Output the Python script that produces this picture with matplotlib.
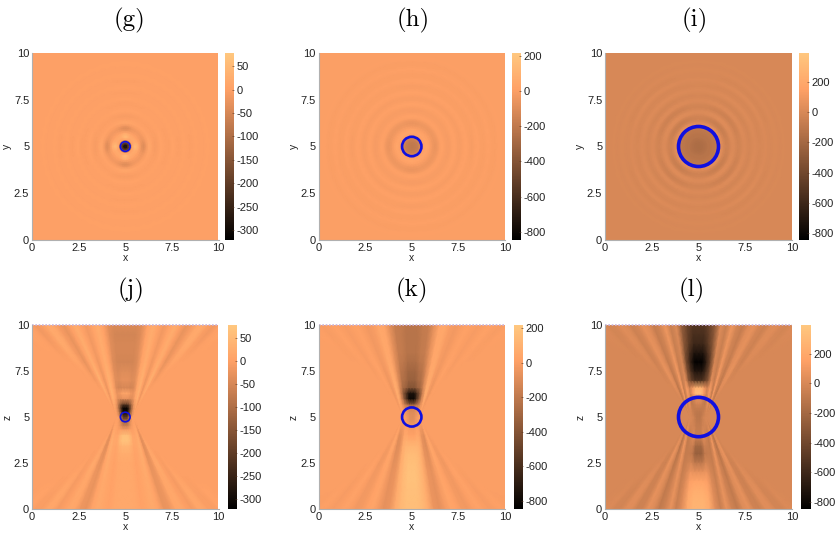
import matplotlib
matplotlib.use("Agg")
import matplotlib.pyplot as plt
from matplotlib.colors import Normalize
from matplotlib.patches import Circle
import numpy as np

plt.rcParams["font.family"] = ["Liberation Sans", "DejaVu Sans"]

W, H = 839, 545

labels_top = ["(g)", "(h)", "(i)"]
labels_bottom = ["(j)", "(k)", "(l)"]
title_x = [[130, 413, 695], [131, 412, 692]]
title_y = [20, 290]

panel_x = [(32, 218.5), (318.5, 505), (605, 792)]
cbar_x_top = [(225, 234), (512, 521), (799, 809)]
cbar_x_bottom = [(228, 237), (514, 523), (801, 811)]

ranges = [(-321, 78), (-847, 217), (-846, 392)]
cbar_ticks = [[50, 0, -50, -100, -150, -200, -250, -300],
              [200, 0, -200, -400, -600, -800],
              [200, 0, -200, -400, -600, -800]]
circle_r = [0.26, 0.52, 1.07]
circle_lw = [1.2, 1.9, 2.6]
ticks = [0, 2.5, 5, 7.5, 10]
tick_labels = ["0", "2.5", "5", "7.5", "10"]

# radial profiles of the x-y panels, every 0.125 from the centre out to r=5
profile_g = [-290, -270, -130, 10, 50, 45, 10, -25, -40, -15, 10, 10, -2, -7, -3, 4, 4, 0, -3, -2,
             2, 2, -1, -2, 0, 2, 1, -1, -2, 0, 1, 1, -1, -1, 0, 1, 1, 0, -1, 0, 0]
profile_h = [-200, -195, -185, -165, -110, 10, 40, 30, 0, -35, -55, -40, 0, 15, 4, -12, -14, 0, 12, 7,
             -8, -10, 2, 10, 7, -7, -8, 1, 8, 6, -6, -7, 1, 7, 4, -4, -5, 1, 5, 3, -3]
profile_i = [-170, -165, -155, -145, -130, -125, -115, -105, -85, 60, 50, -10, -60, -45, 15, 30, 0, -40, -30, 15,
             22, -5, -16, 4, 22, 12, -8, -6, 14, 20, 0, -6, 4, 12, 2, -3, 3, 7, 0, -1, 0]
# how strongly the rings show, over one quadrant, every 7.5 degrees
ring_weight_g = [1, .9, .7, .5, .4, .35, .35, .35, .4, .5, .7, .9]
ring_weight_h = [1, .95, .85, .8, .75, .75, .75, .75, .75, .8, .85, .95]
ring_weight_i = [.55, .6, .7, .85, .95, 1, 1, 1, .95, .85, .7, .6]

# x-z panels: values at the top/bottom edge by offset from x=5, values along the x=5 axis by distance from z=5
edge_offset = [0, .3, .6, .9, 1.2, 1.5, 1.8, 2.1, 2.4, 2.7, 3, 3.3, 3.6, 3.9, 4.2, 4.5, 4.8, 5.1, 5.5, 6, 7, 9, 12, 20]
axis_dist = [0, .15, .3, .5, .7, 1, 1.3, 1.6, 2, 2.5, 3, 3.5, 4, 4.5, 5]
streak_fade = [0, .3, .7, 1.2, 1.6, 1.8, 1.6, 1.4, 1.25, 1.15, 1.05, 1, 1, 1, 1]
# the far streaks only show up some way from z=5 (fraction of the way to the edge)
streak_start = [0, 0, 0, 0, 0, 0, 0, 0, 0, .1, .2, .3, .35, .45, .5, .55, .6, .65, .7, .8, .9, 1, 1, 1]
plume_up = [1, 1, .7, .35, .1, 0, 0, 0, 0, 0, 0, 0, 0, 0, 0, 0, 0, 0, 0, 0, 0, 0, 0, 0]
plume_down = [1, 1, .6, .2, 0, 0, 0, 0, 0, 0, 0, 0, 0, 0, 0, 0, 0, 0, 0, 0, 0, 0, 0, 0]

top_edge_j = [-60, -60, -50, -30, 10, 25, 5, -15, 5, 25, 0, -25, -10, 15, 20, -5, -15, 0, 10, -8, 5, 0, 0, 0]
bottom_edge_j = [15, 15, 10, 0, 10, 20, 5, -25, -20, 10, 15, 0, -10, 10, 10, -5, -5, 5, 5, -3, 2, 0, 0, 0]
up_axis_j = [-220, -250, -300, -310, -200, -30, 10, -50, -30, -40, -55, -50, -50, -55, -45]
down_axis_j = [-220, -150, -100, -60, -10, 60, 70, 40, 25, 15, 15, 15, 15, 15, 15]

top_edge_k = [0, 0, -100, -150, -60, 40, 50, -10, -30, -5, 20, 5, -15, 5, 15, 0, -10, 5, 8, -5, 3, 0, 0, 0]
bottom_edge_k = [0, 0, 80, 40, -50, -70, -20, 30, 20, -20, -30, 5, 25, 5, -15, 0, 10, 0, -5, 5, 0, 0, 0, 0]
up_axis_k = [-90, -90, -100, -130, -350, -800, -750, -400, -330, -300, -260, -230, -230, -230, -220]
down_axis_k = [-90, -80, -60, -30, -10, 20, 70, 120, 150, 170, 180, 180, 175, 170, 165]

top_edge_l = [0, 0, -200, -150, 80, -60, 90, -20, -70, 30, 60, -10, -40, 20, 30, -5, -15, 10, 20, -5, 5, 0, 0, 0]
bottom_edge_l = [0, 0, 120, -20, -60, 70, -30, -90, 20, 60, -30, -40, 30, 30, -20, -15, 15, 10, -5, 5, 0, 0, 0, 0]
up_axis_l = [-110, -110, -100, -70, -30, 50, 320, 250, -550, -720, -830, -720, -600, -560, -520]
down_axis_l = [-110, -100, -90, -80, -70, -70, -100, -200, -250, -100, 60, 170, 230, 260, 270]


def px_axes(fig, x0, x1, y0, y1):
    return fig.add_axes([x0 / W, 1 - y1 / H, (x1 - x0) / W, (y1 - y0) / H])


def style_axes(ax, xlabel, ylabel):
    ax.set_xlim(0, 10)
    ax.set_ylim(0, 10)
    ax.set_xticks(ticks, tick_labels)
    ax.set_yticks(ticks, tick_labels)
    ax.tick_params(length=0, labelsize=8, pad=2, colors="#222222")
    ax.set_xlabel(xlabel, fontsize=7.5, labelpad=0.5, color="#222222")
    ax.set_ylabel(ylabel, fontsize=7.5, labelpad=1, rotation=90, color="#222222")
    for side in ["top", "right"]:
        ax.spines[side].set_visible(False)
    for side in ["left", "bottom"]:
        ax.spines[side].set_color("#b0b0b0")
        ax.spines[side].set_linewidth(0.8)


def add_cbar(fig, mesh, x, y0, y1, tick_vals):
    cax = px_axes(fig, x[0], x[1], y0, y1)
    cb = fig.colorbar(mesh, cax=cax)
    cb.outline.set_visible(False)
    cb.set_ticks(tick_vals, labels=[str(t) for t in tick_vals])
    cax.tick_params(direction="in", length=1.5, width=0.4, color="#55331f", labelsize=8, pad=2, labelcolor="#222222")


def draw_rings(ax, profile, weight, norm):
    # polar mesh, the library shades between the rings
    r = np.r_[np.linspace(0, 5, len(profile)), 7.5]
    theta = np.linspace(0, 2 * np.pi, 49)
    w = np.r_[np.tile(weight, 4), weight[0]]
    vals = np.r_[profile, 0.0]
    RR, TT = np.meshgrid(r, theta, indexing="ij")
    V = np.outer(vals, np.ones(49))
    outside = r >= r[np.argmax(vals > 0)]
    V[outside] = np.outer(vals[outside], w)
    return ax.pcolormesh(5 + RR * np.cos(TT), 5 + RR * np.sin(TT), V, shading="gouraud", cmap="copper", norm=norm)


def draw_fan(ax, edge, axis, plume, sign, norm):
    # straight streaks fan out from a small waist around (5, 5)
    offs = np.array(edge_offset)
    shape = np.array(plume)
    dist = np.array(axis_dist)
    s = dist / dist[-1]
    waist = np.minimum(0.45, offs * 0.3)
    ramp = np.clip((s[:, None] - np.array(streak_start)) / 0.3, 0, 1)
    half = np.outer(streak_fade, np.array(edge) * (1 - shape)) * ramp + np.outer(axis, shape)
    x_off = waist + np.outer(s, offs - waist)
    X = np.hstack([5 - x_off[:, :0:-1], 5 + x_off])
    Z = 5 + sign * np.outer(dist, np.ones(X.shape[1]))
    V = np.hstack([half[:, :0:-1], half])
    return ax.pcolormesh(X, Z, V, shading="gouraud", cmap="copper", norm=norm)


fig = plt.figure(figsize=(W / 100, H / 100), dpi=100)

profiles = [profile_g, profile_h, profile_i]
weights = [ring_weight_g, ring_weight_h, ring_weight_i]
fans = [(top_edge_j, up_axis_j, bottom_edge_j, down_axis_j),
        (top_edge_k, up_axis_k, bottom_edge_k, down_axis_k),
        (top_edge_l, up_axis_l, bottom_edge_l, down_axis_l)]

for i in range(3):
    norm = Normalize(*ranges[i])
    bg = plt.get_cmap("copper")(norm(0))

    ax = px_axes(fig, panel_x[i][0], panel_x[i][1], 53, 240)
    mesh = draw_rings(ax, profiles[i], weights[i], norm)
    ax.add_patch(Circle((5, 5), circle_r[i], fill=False, ec="#1010e0", lw=circle_lw[i]))
    style_axes(ax, "x", "y")
    add_cbar(fig, mesh, cbar_x_top[i], 53, 240, cbar_ticks[i])

    ax = px_axes(fig, panel_x[i][0], panel_x[i][1], 325, 509)
    ax.set_facecolor(bg)
    top, up, bottom, down = fans[i]
    mesh = draw_fan(ax, top, up, plume_up, 1, norm)
    draw_fan(ax, bottom, down, plume_down, -1, norm)
    ax.add_patch(Circle((5, 5), circle_r[i], fill=False, ec="#1010e0", lw=circle_lw[i]))
    ax.axhline(10, color="#c9b4dc", lw=1.2, ls=(0, (1, 1)), clip_on=False)
    style_axes(ax, "x", "z")
    add_cbar(fig, mesh, cbar_x_bottom[i], 325, 509, cbar_ticks[i])

    fig.text(title_x[0][i] / W, 1 - title_y[0] / H, labels_top[i], family="cmr10", fontsize=18, ha="center", va="center")
    fig.text(title_x[1][i] / W, 1 - title_y[1] / H, labels_bottom[i], family="cmr10", fontsize=18, ha="center", va="center")

fig.savefig("out.png", dpi=100)
